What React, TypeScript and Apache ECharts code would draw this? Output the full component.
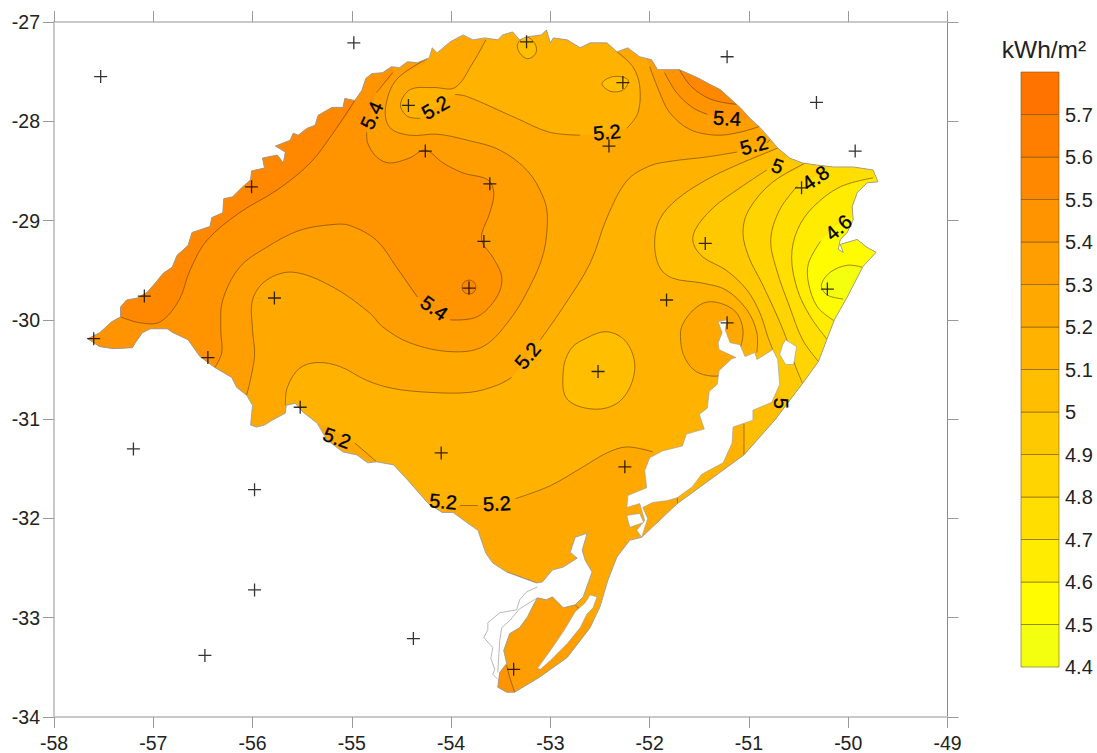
import React, { useEffect, useRef } from "react";
import * as echarts from "echarts";

type Pt = [number, number];

const xTicksMin = -58;
const xTicksMax = -49;
const yTicksMin = -34;
const yTicksMax = -27;

const legendLevels = [4.4, 4.5, 4.6, 4.7, 4.8, 4.9, 5.0, 5.1, 5.2, 5.3, 5.4, 5.5, 5.6, 5.7, 5.8];
const legendColors = ["#F4FF10", "#FFFB00", "#FFEC00", "#FFDE00", "#FFD400", "#FFC900", "#FFBE00", "#FFB300", "#FFA900", "#FF9E00", "#FF9300", "#FF8800", "#FF7E00", "#FF7300"];

const stateOutline: Pt[] = [
  [-57.66,-30.19],[-57.54,-30.13],[-57.42,-30.02],[-57.33,-29.97],[-57.33,-29.87],[-57.27,-29.80],[-57.16,-29.78],[-57.06,-29.72],[-56.98,-29.63],[-56.90,-29.53],[-56.81,-29.47],[-56.76,-29.35],[-56.65,-29.25],[-56.61,-29.12],[-56.43,-29.06],[-56.41,-28.97],[-56.30,-28.92],[-56.29,-28.78],[-56.20,-28.76],[-56.11,-28.67],[-56.02,-28.59],[-56.01,-28.50],[-55.88,-28.47],[-55.90,-28.37],[-55.75,-28.34],[-55.69,-28.42],[-55.67,-28.31],[-55.77,-28.25],[-55.62,-28.19],[-55.59,-28.12],[-55.54,-28.14],[-55.45,-28.07],[-55.37,-28.04],[-55.34,-27.94],[-55.20,-27.86],[-55.09,-27.86],[-55.07,-27.77],[-54.97,-27.79],[-54.90,-27.69],[-54.86,-27.57],[-54.80,-27.52],[-54.69,-27.51],[-54.60,-27.45],[-54.52,-27.46],[-54.44,-27.40],[-54.34,-27.41],[-54.22,-27.36],[-54.19,-27.26],[-54.14,-27.31],[-54.01,-27.20],[-53.88,-27.13],[-53.78,-27.18],[-53.66,-27.16],[-53.53,-27.18],[-53.48,-27.13],[-53.38,-27.10],[-53.31,-27.18],[-53.24,-27.15],[-53.09,-27.13],[-53.04,-27.08],[-53.00,-27.21],[-52.97,-27.16],[-52.83,-27.18],[-52.70,-27.26],[-52.60,-27.21],[-52.43,-27.21],[-52.33,-27.30],[-52.22,-27.26],[-52.10,-27.35],[-51.98,-27.38],[-51.92,-27.48],[-51.80,-27.48],[-51.70,-27.48],[-51.52,-27.56],[-51.39,-27.63],[-51.29,-27.68],[-51.09,-27.86],[-50.99,-27.97],[-50.89,-28.06],[-50.82,-28.14],[-50.71,-28.27],[-50.59,-28.37],[-50.46,-28.42],[-50.32,-28.44],[-50.15,-28.46],[-49.95,-28.46],[-49.75,-28.49],[-49.70,-28.61],[-49.81,-28.62],[-49.91,-28.72],[-49.96,-28.86],[-49.95,-28.99],[-50.01,-29.12],[-50.08,-29.19],[-50.10,-29.29],[-50.05,-29.32],[-50.08,-29.24],[-49.91,-29.19],[-49.81,-29.27],[-49.72,-29.32],[-49.85,-29.46],[-50.01,-29.77],[-50.14,-30.00],[-50.30,-30.42],[-50.46,-30.64],[-50.74,-31.01],[-51.05,-31.36],[-51.72,-31.85],[-52.08,-32.19],[-52.20,-32.22],[-52.33,-32.39],[-52.42,-32.62],[-52.50,-32.89],[-52.60,-33.10],[-52.83,-33.40],[-53.11,-33.60],[-53.36,-33.75],[-53.44,-33.75],[-53.53,-33.70],[-53.51,-33.55],[-53.44,-33.46],[-53.47,-33.33],[-53.41,-33.16],[-53.31,-33.10],[-53.23,-32.99],[-53.16,-32.85],[-53.13,-32.80],[-53.04,-32.82],[-52.98,-32.79],[-52.87,-32.90],[-52.75,-32.87],[-52.67,-32.79],[-52.58,-32.54],[-52.65,-32.42],[-52.68,-32.32],[-52.63,-32.15],[-52.75,-32.19],[-52.80,-32.34],[-52.73,-32.40],[-52.87,-32.49],[-52.98,-32.52],[-53.08,-32.64],[-53.14,-32.65],[-53.44,-32.54],[-53.58,-32.45],[-53.65,-32.35],[-53.73,-32.12],[-53.83,-32.05],[-53.98,-31.94],[-54.09,-31.94],[-54.23,-31.85],[-54.44,-31.61],[-54.58,-31.46],[-54.75,-31.43],[-54.84,-31.44],[-54.95,-31.36],[-55.09,-31.33],[-55.25,-31.21],[-55.35,-31.04],[-55.49,-30.93],[-55.57,-30.84],[-55.66,-30.86],[-55.67,-30.94],[-55.80,-31.01],[-55.88,-31.06],[-55.96,-31.08],[-56.02,-31.06],[-56.00,-30.86],[-56.06,-30.76],[-56.16,-30.68],[-56.21,-30.58],[-56.38,-30.48],[-56.53,-30.37],[-56.65,-30.20],[-56.80,-30.13],[-56.86,-30.09],[-57.03,-30.09],[-57.11,-30.13],[-57.18,-30.23],[-57.21,-30.28],[-57.40,-30.29],[-57.54,-30.27],
];

const lakePatos: Pt[] = [
  [-51.31,-30.02],[-51.22,-30.00],[-51.24,-30.10],[-51.19,-30.23],[-51.09,-30.25],[-51.04,-30.37],[-50.94,-30.33],[-50.92,-30.40],[-50.76,-30.30],[-50.71,-30.40],[-50.69,-30.65],[-50.77,-30.83],[-50.96,-30.91],[-50.96,-31.01],[-51.16,-31.08],[-51.17,-31.24],[-51.26,-31.44],[-51.43,-31.53],[-51.48,-31.56],[-51.57,-31.68],[-51.72,-31.79],[-51.82,-31.82],[-51.97,-31.84],[-52.07,-31.89],[-52.02,-32.00],[-52.08,-32.19],[-52.13,-32.12],[-52.05,-32.02],[-52.10,-31.85],[-52.23,-31.89],[-52.22,-31.77],[-52.03,-31.69],[-52.05,-31.52],[-52.00,-31.39],[-51.87,-31.32],[-51.67,-31.27],[-51.63,-31.15],[-51.45,-31.10],[-51.50,-30.95],[-51.42,-30.89],[-51.40,-30.72],[-51.32,-30.65],[-51.30,-30.51],[-51.17,-30.39],[-51.13,-30.38],[-51.30,-30.30],[-51.31,-30.23],[-51.27,-30.13],
];
const lakeMouth: Pt[] = [[-52.23,-31.97],[-52.10,-31.95],[-52.06,-32.04],[-52.20,-32.09]];
const lakeNorth: Pt[] = [[-50.63,-30.20],[-50.52,-30.27],[-50.55,-30.45],[-50.63,-30.45],[-50.69,-30.35],[-50.66,-30.25]];
const lakeMangueira: Pt[] = [[-53.13,-33.51],[-53.00,-33.33],[-52.87,-33.14],[-52.75,-32.94],[-52.65,-32.85],[-52.60,-32.77],[-52.53,-32.79],[-52.57,-32.90],[-52.63,-32.96],[-52.70,-33.10],[-52.83,-33.26],[-53.00,-33.43],[-53.10,-33.52]];
const mirimOuter: Pt[] = [[-53.13,-32.69],[-53.24,-32.74],[-53.31,-32.82],[-53.34,-32.92],[-53.51,-32.95],[-53.63,-33.05],[-53.63,-33.12],[-53.67,-33.20],[-53.58,-33.30],[-53.60,-33.41],[-53.56,-33.52],[-53.58,-33.57],[-53.53,-33.62]];
const mirimInner: Pt[] = [[-53.13,-32.80],[-53.31,-32.91],[-53.41,-33.03],[-53.49,-33.10],[-53.51,-33.23],[-53.53,-33.55]];

// contour lines, in lon / lat; a line stops at a label and starts again after it
const c55: Pt[] = [[-54.97,-27.79],[-55.19,-28.12],[-55.42,-28.42],[-55.75,-28.69],[-56.13,-28.92],[-56.46,-29.20],[-56.63,-29.50],[-56.74,-29.80],[-56.93,-30.02],[-57.13,-30.03],[-57.33,-29.97]];
const c54a: Pt[] = [[-56.38,-30.48],[-56.31,-30.33],[-56.32,-30.10],[-56.30,-29.80],[-56.13,-29.47],[-55.86,-29.27],[-55.53,-29.10],[-55.19,-29.04],[-55.02,-29.05],[-54.75,-29.20],[-54.55,-29.47],[-54.34,-29.77]];
const c54b: Pt[] = [[-54.01,-30.00],[-53.74,-29.97],[-53.54,-29.77],[-53.49,-29.57],[-53.58,-29.37],[-53.68,-29.23],[-53.69,-29.13],[-53.61,-28.92],[-53.57,-28.72],[-53.63,-28.59],[-53.88,-28.52],[-54.08,-28.42],[-54.26,-28.29],[-54.42,-28.37],[-54.62,-28.42],[-54.75,-28.36],[-54.84,-28.22],[-54.85,-28.11]];
const c54c: Pt[] = [[-54.75,-27.71],[-54.59,-27.51]];
const c53: Pt[] = [[-56.06,-30.76],[-55.98,-30.37],[-56.00,-30.10],[-56.00,-29.80],[-55.86,-29.60],[-55.59,-29.52],[-55.19,-29.67],[-54.82,-29.93],[-54.69,-30.07],[-54.42,-30.23],[-54.01,-30.32],[-53.68,-30.27],[-53.41,-30.00],[-53.21,-29.67],[-53.07,-29.33],[-53.03,-28.97],[-53.07,-28.77],[-53.23,-28.50],[-53.51,-28.29],[-53.84,-28.19],[-54.14,-28.13],[-54.42,-28.14],[-54.62,-28.06],[-54.66,-27.86],[-54.55,-27.58],[-54.24,-27.37]];
const c52a: Pt[] = [[-55.67,-30.86],[-55.65,-30.68],[-55.53,-30.49],[-55.35,-30.43],[-55.12,-30.47],[-54.85,-30.61],[-54.59,-30.69],[-54.22,-30.73],[-53.81,-30.73],[-53.54,-30.66],[-53.39,-30.58]];
const c52b: Pt[] = [[-53.10,-30.20],[-52.87,-29.87],[-52.60,-29.43],[-52.43,-28.97],[-52.23,-28.60],[-52.00,-28.45],[-51.77,-28.40],[-51.43,-28.36],[-51.12,-28.31]];
const c52c: Pt[] = [[-50.82,-28.22],[-50.78,-28.18]];
const c52e: Pt[] = [[-51.72,-31.86],[-51.72,-31.79]];
const c52s1: Pt[] = [[-51.97,-31.33],[-52.23,-31.28],[-52.43,-31.34],[-52.67,-31.48],[-53.00,-31.67],[-53.35,-31.80]];
const c52s2: Pt[] = [[-53.73,-31.87],[-53.91,-31.87]];
const c52w: Pt[] = [[-54.75,-31.43],[-54.97,-31.24]];
const n1: Pt[] = [[-53.65,-27.18],[-53.78,-27.41],[-53.96,-27.66],[-54.18,-27.66],[-54.41,-27.68],[-54.51,-27.83],[-54.44,-27.95],[-54.31,-27.97]];
const n2: Pt[] = [[-53.96,-27.73],[-53.84,-27.75],[-53.34,-27.97],[-53.01,-28.11],[-52.70,-28.14]];
const n3: Pt[] = [[-52.23,-28.07],[-52.12,-27.92],[-52.10,-27.65],[-52.17,-27.45],[-52.33,-27.30]];
const ne53: Pt[] = [[-52.00,-27.45],[-51.90,-27.71],[-51.80,-27.91],[-51.60,-28.08],[-51.33,-28.14],[-51.09,-28.11],[-50.89,-28.05]];
const ne54: Pt[] = [[-51.85,-27.51],[-51.73,-27.71],[-51.57,-27.86],[-51.42,-27.93]];
const ne55: Pt[] = [[-51.70,-27.48],[-51.58,-27.65],[-51.38,-27.78],[-51.11,-27.83]];
const e51: Pt[] = [[-50.71,-28.27],[-51.12,-28.44],[-51.43,-28.59],[-51.73,-28.79],[-51.90,-28.99],[-51.95,-29.23],[-51.90,-29.47],[-51.77,-29.58],[-51.47,-29.63],[-51.23,-29.70],[-51.02,-29.90],[-50.92,-30.13],[-50.92,-30.33]];
const e51s: Pt[] = [[-51.05,-31.05],[-51.05,-31.36]];
const e50a: Pt[] = [[-50.82,-28.49],[-51.09,-28.67],[-51.36,-28.87],[-51.54,-29.09],[-51.56,-29.23],[-51.46,-29.37],[-51.23,-29.50],[-51.02,-29.70],[-50.89,-29.93],[-50.81,-30.17],[-50.76,-30.30]];
const e49: Pt[] = [[-50.43,-28.42],[-50.77,-28.62],[-51.00,-28.89],[-51.06,-29.12],[-51.00,-29.37],[-50.87,-29.63],[-50.73,-29.93],[-50.63,-30.17],[-50.53,-30.47],[-50.46,-30.64]];
const e48: Pt[] = [[-50.51,-28.65],[-50.69,-28.89],[-50.78,-29.19],[-50.72,-29.50],[-50.59,-29.87],[-50.46,-30.20],[-50.30,-30.42]];
const e47: Pt[] = [[-49.75,-28.57],[-50.08,-28.66],[-50.35,-28.86],[-50.51,-29.09],[-50.57,-29.37],[-50.51,-29.70],[-50.38,-29.97],[-50.21,-30.20]];
const e46: Pt[] = [[-50.28,-29.21],[-50.40,-29.43],[-50.40,-29.63],[-50.31,-29.87],[-50.14,-30.01]];
const e45: Pt[] = [[-49.86,-29.47],[-50.01,-29.45],[-50.18,-29.52],[-50.27,-29.65],[-50.21,-29.75],[-50.05,-29.79]];
const s53a: Pt[] = [[-53.44,-32.54],[-53.14,-32.65]];
const s53b: Pt[] = [[-52.75,-32.87],[-52.68,-32.94]];
const sTip: Pt[] = [[-53.44,-33.48],[-53.41,-33.60],[-53.36,-33.75]];

// closed contours
const ringNorth1: Pt[] = [[-53.24,-27.15],[-53.15,-27.23],[-53.15,-27.32],[-53.23,-27.37],[-53.31,-27.31],[-53.33,-27.22]];
const ringNorth2: Pt[] = [[-52.48,-27.62],[-52.37,-27.55],[-52.22,-27.58],[-52.26,-27.68],[-52.39,-27.70]];
const ringGuaiba: Pt[] = [[-51.42,-29.82],[-51.56,-29.90],[-51.67,-30.05],[-51.69,-30.17],[-51.66,-30.35],[-51.56,-30.50],[-51.42,-30.56],[-51.27,-30.55],[-51.14,-30.40],[-51.06,-30.15],[-51.11,-29.95],[-51.24,-29.85]];
const ringCentre: Pt[] = [[-52.87,-30.51],[-52.80,-30.30],[-52.67,-30.20],[-52.43,-30.12],[-52.23,-30.23],[-52.15,-30.50],[-52.28,-30.80],[-52.53,-30.90],[-52.83,-30.80]];
const ringDark: Pt[] = [[-53.75,-29.67],[-53.77,-29.72],[-53.82,-29.74],[-53.87,-29.72],[-53.89,-29.67],[-53.87,-29.62],[-53.82,-29.60],[-53.77,-29.62]];

// where each filled band closes beyond the state's edge (the state's outline clips it)
const westFar: Pt[] = [[-56.03,-27.79],[-57.94,-29.80],[-57.94,-30.50],[-56.53,-30.81]];
const eastTop = -28.09;
const eastEdge = -49.28;

const bands: { level: number; pts: Pt[] }[] = [
  { level: 5.2, pts: stateOutline },
  { level: 5.3, pts: [...s53a, ...s53b, [-52.60,-33.03], [-52.40,-33.07], [-52.50,-34.03], [-53.71,-34.03], [-53.71,-32.62], [-53.56,-32.48]] },
  { level: 5.4, pts: [...sTip, [-53.36,-33.93], [-53.71,-33.93], [-53.71,-33.38]] },
  { level: 5.1, pts: [...c52a, ...c52b, ...c52c, [-50.49,-27.99], [eastEdge,-27.99], [eastEdge,-31.81], [-51.29,-32.42], ...c52e, ...c52s1, ...c52s2, [-54.11,-31.92], [-54.41,-31.77], [-54.66,-31.57], ...c52w, [-55.30,-31.06], [-55.52,-30.95]] },
  { level: 5.1, pts: [...n1, ...n2, ...n3, [-52.50,-26.98], [-53.51,-26.98]] },
  { level: 5.0, pts: ringNorth1 },
  { level: 5.0, pts: ringNorth2 },
  { level: 5.3, pts: [...c53, [-54.52,-27.18], ...westFar, [-56.06,-30.93]] },
  { level: 5.4, pts: [...c54a, ...c54b, ...c54c, [-54.72,-27.18], ...westFar, [-56.38,-30.66]] },
  { level: 5.5, pts: [...c55, [-57.44,-29.95], [-57.94,-29.80], [-56.03,-27.79], [-55.02,-27.49]] },
  { level: 5.5, pts: ringDark },
  { level: 5.3, pts: [...ne53, [-50.74,-27.78], [-51.49,-27.18], [-52.10,-27.18]] },
  { level: 5.4, pts: [...ne54, [-50.99,-27.97], [-50.89,-27.78], [-51.49,-27.18], [-51.95,-27.28]] },
  { level: 5.5, pts: [...ne55, [-50.89,-27.68], [-51.49,-27.18], [-51.80,-27.28]] },
  { level: 5.2, pts: ringGuaiba },
  { level: 5.0, pts: ringCentre },
  { level: 5.0, pts: [...e51, [-50.97,-30.70], ...e51s, [-51.05,-31.61], [eastEdge,-31.61], [eastEdge,eastTop], [-50.59,eastTop]] },
  { level: 4.9, pts: [[-50.62,-28.35], ...e50a, [-50.71,-30.60], [-50.67,-30.96], [-50.64,-31.11], [eastEdge,-31.11], [eastEdge,eastTop], [-50.49,eastTop]] },
  { level: 4.8, pts: [...e49, [-50.19,-30.71], [eastEdge,-30.71], [eastEdge,eastTop], [-50.29,eastTop]] },
  { level: 4.7, pts: [[-50.18,-28.46], ...e48, [-50.08,-30.52], [eastEdge,-30.52], [eastEdge,eastTop], [-50.09,eastTop]] },
  { level: 4.6, pts: [...e47, [-49.98,-30.30], [eastEdge,-30.30], [eastEdge,-28.57]] },
  { level: 4.5, pts: [[-49.95,-28.96], ...e46, [-49.88,-30.10], [eastEdge,-30.10], [eastEdge,-28.96]] },
  { level: 4.4, pts: [...e45, [-49.88,-29.90], [eastEdge,-29.90], [eastEdge,-29.47]] },
];

const openLines: Pt[][] = [c55, c54a, c54b, c54c, c53, c52a, c52b, c52c, c52e, c52s1, c52s2, c52w, n1, n2, n3, ne53, ne54, ne55, e51, e51s, e50a, e49, e48, e47, e46, e45, s53a, s53b, sTip];
const closedLines: Pt[][] = [ringNorth1, ringNorth2, ringGuaiba, ringCentre, ringDark];

const stations: Pt[] = [
  [-57.53,-27.55],[-54.98,-27.21],[-53.24,-27.20],[-52.27,-27.61],[-51.22,-27.35],[-50.32,-27.81],[-49.93,-28.30],[-54.43,-27.84],[-54.26,-28.30],[-53.61,-28.63],[-53.67,-29.21],[-53.82,-29.68],[-56.01,-28.66],[-57.09,-29.76],[-57.60,-30.19],[-55.78,-29.78],[-56.45,-30.38],[-55.52,-30.88],[-57.20,-31.30],[-55.98,-31.71],[-55.98,-32.72],[-56.48,-33.38],[-54.38,-33.21],[-54.10,-31.34],[-52.25,-31.48],[-52.52,-30.52],[-51.83,-29.80],[-51.44,-29.23],[-51.22,-30.03],[-50.47,-28.67],[-50.21,-29.69],[-52.41,-28.25],[-53.37,-33.52],
];

// lon, lat, text, rotation in degrees
const contourLabels: [number, number, string, number][] = [
  [-54.80,-27.94,"5.4",65],[-54.16,-27.86,"5.2",30],[-52.43,-28.11,"5.2",5],[-51.22,-27.97,"5.4",-3],[-50.95,-28.24,"5.2",15],[-50.71,-28.45,"5",-20],[-50.33,-28.57,"4.8",35],[-50.10,-29.07,"4.6",40],[-50.68,-30.84,"5",-90],[-54.17,-29.88,"5.4",-35],[-53.23,-30.36,"5.2",50],[-55.15,-31.19,"5.2",-20],[-54.08,-31.83,"5.2",-5],[-53.54,-31.85,"5.2",3],
];

const FONT = '"Liberation Sans", Arial, sans-serif';
const LINE = "rgba(95,62,0,0.75)";
const colorOf = (level: number) => legendColors[legendLevels.findIndex((l) => Math.abs(l - level) < 1e-6)];

export default function App() {
  const ref = useRef<HTMLDivElement>(null);
  useEffect(() => {
    document.body.style.margin = "0";
    const chart = echarts.init(ref.current!, undefined, { renderer: "svg" });
    const toPx = (api: any, pts: Pt[]) => pts.map((p) => api.coord(p));
    const clipOf = (api: any) => ({ type: "polygon", shape: { points: toPx(api, stateOutline) } });
    const polySeries = (name: string, z: number, data: any[], render: any) => ({
      type: "custom", name, z, xAxisIndex: 0, yAxisIndex: 0, clip: false, silent: true,
      data: data.map((_, i) => [i]), renderItem: render,
    });
    const lakes = [lakePatos, lakeMouth, lakeNorth, lakeMangueira];
    chart.setOption({
      animation: false,
      grid: [
        { left: 54, top: 22, width: 893.5, height: 695 },
        { left: 1021, top: 72, width: 38, height: 595 },
      ],
      xAxis: [
        {
          type: "value", gridIndex: 0, position: "bottom", min: xTicksMin, max: xTicksMax, interval: 1,
          axisLine: { onZero: false, lineStyle: { color: "#c9c9c9", width: 2 } },
          axisTick: { show: true, length: 11, lineStyle: { color: "#9a9a9a", width: 1 } },
          axisLabel: { margin: 16, fontSize: 19.5, color: "#222", fontFamily: FONT, hideOverlap: false },
          splitLine: { show: false },
        },
        {
          type: "value", gridIndex: 0, position: "top", min: xTicksMin, max: xTicksMax, interval: 1,
          axisLine: { onZero: false, lineStyle: { color: "#c9c9c9", width: 2 } },
          axisTick: { show: true, length: 11, lineStyle: { color: "#9a9a9a", width: 1 } },
          axisLabel: { show: false }, splitLine: { show: false },
        },
        { type: "value", gridIndex: 1, min: 0, max: 1, show: false },
      ],
      yAxis: [
        {
          type: "value", gridIndex: 0, position: "left", min: yTicksMin, max: yTicksMax, interval: 1,
          axisLine: { onZero: false, lineStyle: { color: "#c9c9c9", width: 2 } },
          axisTick: { show: true, length: 11, lineStyle: { color: "#9a9a9a", width: 1 } },
          axisLabel: { margin: 14, fontSize: 19.5, color: "#222", fontFamily: FONT, hideOverlap: false },
          splitLine: { show: false },
        },
        {
          type: "value", gridIndex: 0, position: "right", min: yTicksMin, max: yTicksMax, interval: 1,
          axisLine: { onZero: false, lineStyle: { color: "#8c8c8c", width: 1 } },
          axisTick: { show: true, length: 11, lineStyle: { color: "#9a9a9a", width: 1 } },
          axisLabel: { show: false }, splitLine: { show: false },
        },
        {
          type: "value", gridIndex: 1, position: "right", min: 4.4, max: 5.8, interval: 0.1,
          axisLine: { show: false }, axisTick: { show: false }, splitLine: { show: false },
          axisLabel: {
            margin: 6, fontSize: 20, color: "#222", fontFamily: FONT, showMaxLabel: false, hideOverlap: false,
            formatter: (v: number) => String(+v.toFixed(1)),
          },
        },
      ],
      graphic: [
        { type: "text", x: 1044, y: 49, style: { text: "kWh/m²", font: `24.5px ${FONT}`, fill: "#222", align: "center", verticalAlign: "middle" } },
      ],
      series: [
        polySeries("bands", 2, bands, (p: any, api: any) => {
          const b = bands[p.dataIndex];
          return {
            type: "polygon", clipPath: clipOf(api),
            shape: { points: toPx(api, b.pts), smooth: b.pts === stateOutline ? 0 : 0.35 },
            style: { fill: colorOf(b.level), stroke: "none" },
          };
        }),
        polySeries("open-contours", 3, openLines, (p: any, api: any) => ({
          type: "polyline", clipPath: clipOf(api),
          shape: { points: toPx(api, openLines[p.dataIndex]), smooth: 0.35 },
          style: { fill: "none", stroke: LINE, lineWidth: 0.8 },
        })),
        polySeries("closed-contours", 3, closedLines, (p: any, api: any) => ({
          type: "polygon", clipPath: clipOf(api),
          shape: { points: toPx(api, closedLines[p.dataIndex]), smooth: 0.35 },
          style: { fill: "none", stroke: LINE, lineWidth: 0.8 },
        })),
        polySeries("outline", 4, [stateOutline], (_p: any, api: any) => ({
          type: "polygon", shape: { points: toPx(api, stateOutline) },
          style: { fill: "none", stroke: "#9a9a9a", lineWidth: 0.9 },
        })),
        polySeries("lakes", 5, lakes, (p: any, api: any) => ({
          type: "polygon", shape: { points: toPx(api, lakes[p.dataIndex]) },
          style: { fill: "#ffffff", stroke: "#9a9a9a", lineWidth: 0.6 },
        })),
        polySeries("mirim", 5, [mirimOuter, mirimInner], (p: any, api: any) => ({
          type: "polyline", shape: { points: toPx(api, [mirimOuter, mirimInner][p.dataIndex]) },
          style: { fill: "none", stroke: "#9a9a9a", lineWidth: 0.7 },
        })),
        {
          type: "scatter", z: 6, xAxisIndex: 0, yAxisIndex: 0, silent: true, data: stations, symbolSize: 13,
          symbol: "path://M5.85 0h1.3v5.85H13v1.3H7.15V13h-1.3V7.15H0v-1.3h5.85z", itemStyle: { color: "#000" },
        },
        polySeries("labels", 7, contourLabels, (p: any, api: any) => {
          const [lon, lat, text, rot] = contourLabels[p.dataIndex];
          const [x, y] = api.coord([lon, lat]);
          return {
            type: "text", x, y, rotation: (rot * Math.PI) / 180,
            style: { text, font: `20px ${FONT}`, fill: "#000", stroke: "#000", lineWidth: 0.35, align: "center", verticalAlign: "middle" },
          };
        }),
        {
          type: "custom", name: "scale", z: 2, xAxisIndex: 2, yAxisIndex: 2, silent: true,
          data: legendColors.map((_, i) => [i]),
          renderItem: (p: any, api: any) => {
            const i = p.dataIndex;
            const a = api.coord([0, legendLevels[i + 1]]);
            const b = api.coord([1, legendLevels[i]]);
            return {
              type: "rect", shape: { x: a[0], y: a[1], width: b[0] - a[0], height: b[1] - a[1] },
              style: { fill: legendColors[i], stroke: "rgba(110,80,0,0.55)", lineWidth: 1 },
            };
          },
        },
      ],
    });
    return () => chart.dispose();
  }, []);
  return <div ref={ref} style={{ position: "absolute", left: 0, top: 0, width: 1097, height: 753 }} />;
}
